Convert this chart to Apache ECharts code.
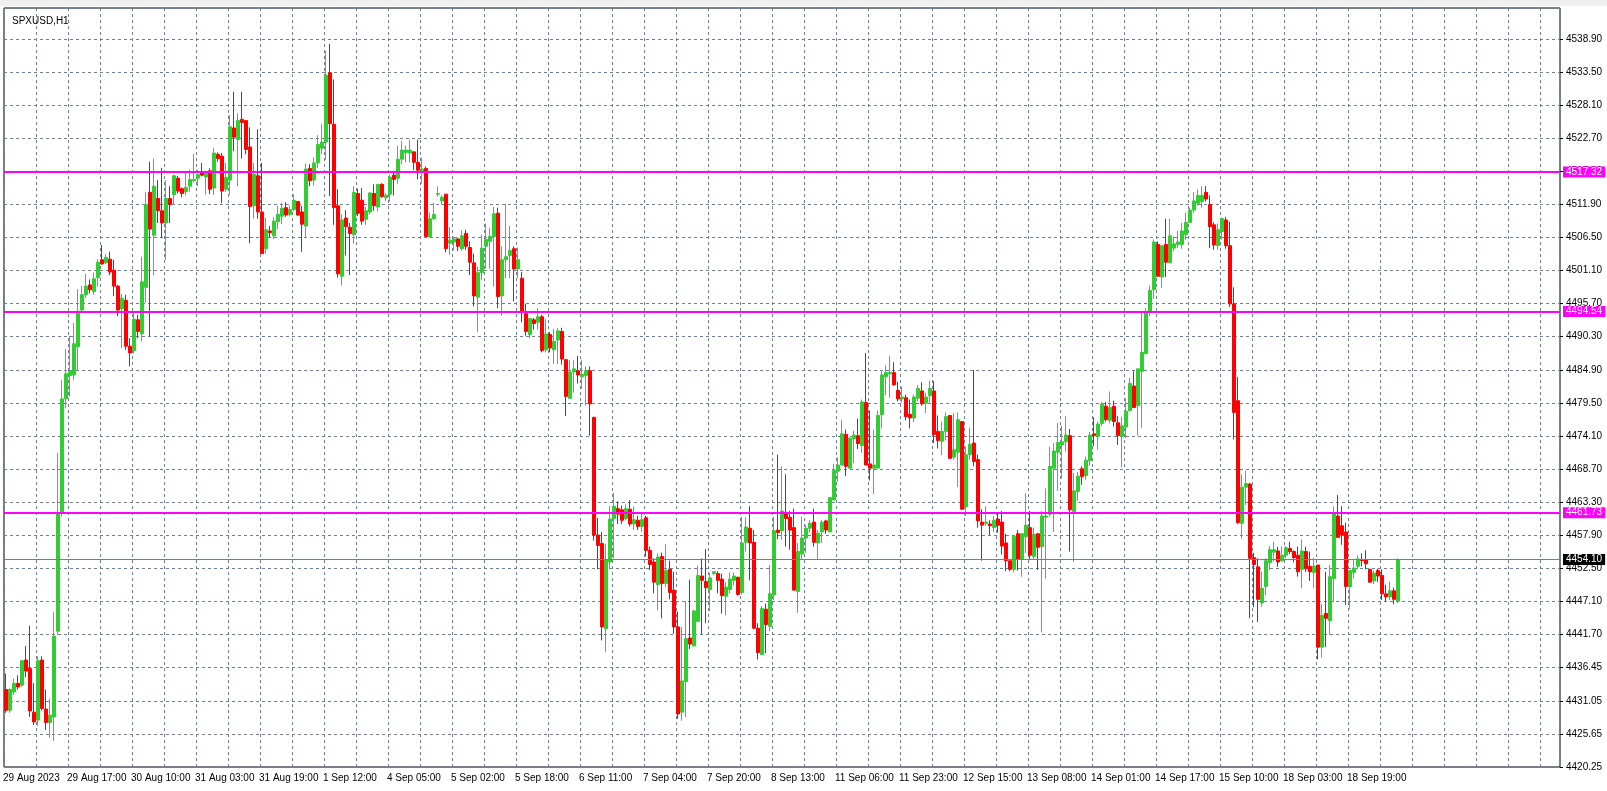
<!DOCTYPE html>
<html><head><meta charset="utf-8">
<script src="https://cdn.jsdelivr.net/npm/echarts@6/dist/echarts.min.js"></script>
<style>html,body{margin:0;padding:0;background:#fff}#c{width:1607px;height:791px}</style>
</head><body><div id="c"></div>
<script>
const opens=[4432.9,4429.5,4432.5,4433.9,4433.6,4437.7,4436.3,4429.2,4427.9,4437.7,4429.7,4427.5,4428.4,4442.4,4461.7,4480.3,4484.1,4484.2,4488.8,4494.8,4497.3,4498.9,4497.8,4500.1,4503.0,4502.5,4503.1,4501.3,4498.7,4495.0,4496.4,4488.9,4488.2,4493.2,4490.9,4498.5,4514.0,4507.0,4513.0,4511.0,4509.0,4513.0,
4513.6,4516.3,4514.6,4514.1,4515.0,4515.9,4516.3,4517.2,4516.5,4517.5,4514.7,4520.2,4519.9,4514.5,4516.0,4524.5,4522.6,4525.9,4525.7,4521.4,4511.8,4516.7,4510.8,4504.8,4507.7,4506.9,4509.2,4510.1,4511.5,4510.4,4511.2,4512.5,4510.8,4508.5,4517.9,4516.0,4518.8,4521.2,4522.2,4533.5,4525.1,4511.8,4500.3,4509.8,
4508.3,4507.1,4513.8,4512.7,4509.6,4510.8,4513.8,4511.6,4515.3,4513.1,4513.7,4516.8,4516.3,4519.4,4520.5,4520.4,4520.6,4518.9,4517.2,4517.9,4506.7,4509.7,4513.7,4512.6,4513.7,4505.7,4505.9,4506.4,4504.8,4507.3,4505.0,4502.5,4496.9,4500.9,4505.2,4506.0,4506.8,4510.6,4497.1,4503.0,4503.7,4504.8,4501.5,4500.0,
4494.2,4490.8,4493.2,4492.8,4493.7,4488.3,4490.8,4488.3,4489.9,4491.3,4486.7,4480.4,4484.7,4484.9,4483.9,4484.1,4484.9,4477.3,4458.1,4456.7,4442.8,4453.7,4460.8,4462.4,4462.2,4460.8,4462.3,4459.9,4460.5,4459.5,4460.9,4455.6,4453.7,4450.0,4454.6,4450.2,4452.5,4449.1,4443.1,4429.2,4434.2,
4441.3,4440.0,4444.0,4451.4,4450.5,4449.2,4451.8,4451.8,4450.9,4448.1,4449.2,4450.7,4451.2,4448.7,4456.9,4459.2,4456.9,4442.9,4438.6,4446.0,4443.2,4448.3,4458.9,4458.8,4461.8,4461.0,4459.3,4448.9,4455.0,4457.6,4459.2,4460.2,4456.8,4458.6,4460.4,4458.6,4463.8,4468.5,4469.5,4474.5,4469.0,4473.8,
4474.3,4472.7,4479.7,4469.7,4469.0,4469.0,4477.7,4483.9,4484.4,4484.6,4481.7,4480.3,4480.5,4477.8,4477.2,4480.4,4481.6,4479.6,4480.8,4481.6,4475.0,4473.4,4475.0,4477.6,4470.8,4471.6,4476.6,4462.7,4471.2,4473.1,4470.4,4460.2,4460.0,4459.9,4459.3,4460.7,4460.2,4456.8,4453.9,4452.5,4458.3,4454.1,4457.8,
4459.3,4454.6,4458.3,4456.2,4461.0,4461.5,4469.0,4471.6,4472.8,4473.3,4474.3,4461.9,4465.2,4468.9,4467.8,4470.2,4474.6,4474.2,4476.3,4479.1,4476.8,4479.1,4476.4,4474.2,4475.7,4478.4,4482.4,4479.2,4484.8,4487.7,4494.4,4498.1,4505.5,4500.2,4505.5,4502.5,4504.9,4505.5,4505.5,4507.1,4509.1,4511.1,
4512.2,4512.5,4514.0,4512.0,4508.7,4505.3,4507.6,4509.5,4505.3,4495.8,4480.0,4460.0,4465.9,4466.4,4454.4,4452.9,4447.0,4449.7,4453.6,4455.3,4455.5,4453.9,4454.8,4455.9,4455.4,4454.8,4452.5,4455.4,4453.0,4452.0,4453.2,4439.8,4445.3,4444.1,4451.0,4461.2,4459.6,4458.6,4449.7,4452.0,4453.0,4454.1,4454.0,4452.5,4450.6,4452.3,4451.5,4448.5,4448.0,4449.0,4447.3];
const closes=[4429.5,4432.9,4433.9,4433.3,4437.6,4435.9,4429.4,4427.6,4437.6,4429.8,4427.5,4428.7,4441.6,4461.7,4480.3,4484.4,4484.8,4489.3,4494.6,4497.3,4498.7,4498.1,4499.9,4502.6,4502.3,4503.4,4501.0,4498.7,4494.8,4496.7,4488.9,4487.8,4493.3,4491.3,4499.4,4512.0,4508.0,4515.0,4511.0,4509.0,4513.0,4512.0,
4516.7,4514.2,4513.8,4514.8,4516.1,4516.1,4516.9,4516.8,4517.2,4514.5,4520.4,4519.5,4514.2,4516.4,4524.7,4523.0,4525.7,4525.4,4521.0,4511.7,4516.9,4510.8,4504.0,4507.9,4507.4,4509.3,4510.4,4511.4,4510.3,4511.2,4512.7,4510.3,4508.8,4517.8,4515.9,4518.8,4521.8,4522.2,4533.1,4525.2,4511.5,4500.7,4509.5,4508.4,
4507.3,4514.0,4510.6,4509.3,4511.0,4513.9,4511.8,4515.3,4513.3,4513.5,4516.5,4516.1,4519.4,4520.9,4520.9,4520.9,4518.9,4517.6,4517.8,4506.8,4509.7,4510.4,4513.8,4513.2,4504.8,4506.2,4506.4,4505.2,4506.9,4505.2,4502.6,4497.1,4500.9,4504.9,4506.3,4506.8,4510.5,4497.0,4503.0,4503.5,4504.5,4501.5,4503.0,4494.4,
4491.3,4493.4,4492.6,4493.7,4488.2,4490.9,4488.6,4489.7,4491.4,4486.8,4480.7,4484.7,4485.2,4484.2,4484.3,4484.9,4479.5,4458.1,4456.4,4443.1,4454.0,4460.7,4462.8,4461.5,4460.5,4462.4,4459.9,4460.6,4459.5,4460.6,4455.6,4453.3,4450.4,4454.5,4450.2,4452.3,4448.7,4443.1,4428.9,4434.3,4441.2,
4440.3,4445.7,4451.5,4450.7,4449.5,4451.1,4452.1,4450.7,4448.2,4449.6,4450.9,4451.4,4448.4,4456.8,4459.4,4456.8,4442.9,4438.9,4446.1,4443.5,4448.5,4458.8,4458.5,4462.0,4460.8,4458.9,4449.1,4455.4,4457.6,4459.2,4460.0,4456.9,4458.4,4460.2,4458.9,4464.2,4468.6,4469.5,4474.6,4469.3,4473.9,4474.4,
4473.0,4479.8,4469.5,4469.0,4469.5,4477.6,4484.2,4484.6,4484.6,4482.6,4480.3,4480.6,4477.4,4477.2,4480.6,4482.0,4479.5,4480.6,4482.0,4474.5,4473.5,4475.0,4477.4,4470.6,4472.0,4476.9,4462.3,4471.2,4472.9,4470.1,4460.4,4459.7,4460.2,4459.6,4460.5,4459.7,4456.3,4453.9,4452.5,4457.9,4454.2,4458.3,4459.7,
4454.8,4458.2,4456.1,4461.2,4461.2,4469.3,4471.8,4473.2,4473.3,4474.4,4462.2,4465.3,4467.7,4467.6,4470.3,4474.4,4474.3,4476.2,4479.4,4476.9,4478.9,4476.6,4474.3,4475.9,4478.3,4482.8,4478.9,4485.2,4487.9,4494.3,4498.0,4505.9,4500.3,4505.3,4502.6,4506.9,4505.6,4505.9,4507.7,4509.1,4511.1,4512.6,
4513.5,4513.5,4512.9,4508.4,4505.4,4507.9,4509.7,4505.3,4495.8,4478.1,4460.1,4465.9,4466.5,4454.3,4453.3,4447.6,4449.4,4453.9,4455.7,4455.7,4453.7,4454.8,4456.0,4455.4,4454.4,4452.1,4455.5,4452.6,4452.1,4453.0,4439.8,4445.0,4444.5,4451.3,4461.6,4457.7,4458.1,4449.7,4452.3,4452.7,4454.2,4453.9,4453.4,4450.4,4451.9,4451.4,4448.5,4448.0,4449.0,4447.6,4454.1];
const highs=[4435.5,4433.1,4434.7,4435.2,4437.7,4440.0,4443.3,4433.9,4438.3,4438.3,4432.9,4431.4,4445.6,4471.5,4483.4,4488.4,4490.6,4492.7,4498.2,4498.7,4500.7,4499.8,4500.9,4503.1,4505.4,4503.9,4504.3,4503.0,4498.9,4497.4,4497.3,4490.2,4494.6,4494.0,4503.5,4514.0,4519.0,4519.5,4516.0,4518.0,4516.0,4515.0,
4516.9,4516.7,4514.8,4517.3,4517.7,4520.3,4517.7,4518.8,4517.5,4517.9,4521.2,4520.5,4520.4,4518.8,4526.6,4530.4,4526.9,4530.4,4525.7,4524.6,4518.8,4524.3,4518.8,4509.9,4508.5,4509.9,4511.8,4512.3,4512.4,4511.8,4513.7,4512.6,4511.8,4518.7,4518.6,4519.7,4523.3,4525.1,4537.1,4538.2,4532.4,4514.5,4510.4,4511.1,
4509.0,4515.0,4514.6,4514.7,4511.6,4514.0,4515.3,4515.3,4515.5,4513.9,4516.9,4517.5,4521.6,4522.4,4521.6,4522.6,4520.6,4522.6,4519.7,4518.2,4510.7,4512.3,4515.0,4513.5,4513.7,4508.3,4506.8,4506.6,4507.8,4507.9,4506.0,4504.0,4501.9,4507.1,4508.9,4508.2,4511.6,4511.5,4505.2,4512.1,4508.5,4505.2,4505.0,4501.0,
4495.8,4493.4,4493.5,4495.1,4494.0,4493.3,4491.2,4491.7,4491.9,4491.9,4486.7,4486.6,4486.6,4487.3,4486.7,4485.6,4485.6,4477.3,4460.9,4458.6,4456.6,4462.8,4465.0,4463.6,4462.9,4463.1,4463.8,4462.8,4461.2,4461.8,4461.2,4456.2,4454.3,4455.1,4455.2,4456.6,4453.9,4452.1,4445.6,4443.1,4447.3,
4450.8,4445.9,4453.1,4454.3,4455.8,4451.9,4452.1,4452.2,4451.8,4450.4,4452.0,4452.0,4451.3,4461.1,4461.0,4462.8,4458.9,4443.7,4446.5,4446.9,4453.2,4461.1,4471.2,4469.3,4468.0,4462.0,4462.4,4456.8,4461.1,4459.7,4460.5,4462.4,4458.9,4460.5,4460.6,4464.2,4469.7,4470.8,4476.9,4475.3,4474.0,4475.1,
4477.1,4480.2,4487.8,4478.4,4475.3,4478.4,4485.0,4485.8,4487.3,4486.3,4483.1,4482.3,4481.0,4480.2,4481.0,4482.6,4483.0,4481.3,4483.3,4483.2,4477.6,4476.6,4478.1,4477.6,4478.0,4478.1,4476.6,4472.5,4475.6,4485.0,4471.2,4462.3,4462.8,4460.5,4461.2,4461.6,4462.0,4458.3,4453.9,4457.9,4458.9,4458.3,4464.9,
4462.0,4459.3,4458.3,4462.0,4465.7,4472.5,4473.1,4476.4,4475.9,4477.5,4475.4,4468.2,4468.4,4469.3,4470.9,4474.9,4477.3,4476.6,4479.8,4479.8,4481.5,4480.0,4477.5,4477.4,4480.4,4483.7,4484.8,4485.2,4494.6,4495.1,4498.8,4506.3,4506.0,4505.3,4509.7,4509.7,4506.8,4507.7,4509.0,4510.7,4511.5,4514.0,
4514.5,4515.0,4515.0,4513.5,4509.1,4508.9,4509.9,4510.0,4509.2,4498.5,4483.9,4468.0,4468.6,4466.6,4455.2,4454.3,4452.1,4454.3,4456.3,4457.0,4456.2,4456.2,4456.3,4457.0,4455.6,4456.2,4457.4,4456.2,4455.4,4454.4,4453.2,4446.8,4452.1,4453.2,4462.8,4464.6,4462.8,4460.1,4452.3,4454.0,4454.8,4455.1,4455.6,4452.5,4452.3,4452.6,4452.5,4450.0,4450.5,4449.5,4454.3];
const lows=[4429.1,4429.1,4432.0,4432.9,4433.3,4434.9,4428.4,4427.1,4427.0,4429.5,4426.3,4425.0,4424.5,4441.8,4461.1,4478.8,4480.7,4483.4,4485.0,4494.4,4496.7,4497.5,4497.3,4498.6,4502.2,4502.3,4500.5,4497.1,4493.8,4488.6,4488.3,4485.6,4487.7,4490.2,4489.7,4496.0,4490.5,4500.5,4509.0,4506.5,4503.0,4509.0,
4512.0,4513.8,4513.2,4513.5,4514.1,4515.7,4515.0,4516.6,4513.6,4513.7,4513.6,4519.0,4512.2,4514.1,4513.6,4520.7,4515.0,4519.5,4520.2,4505.7,4509.7,4509.7,4504.0,4504.0,4506.6,4506.4,4508.0,4508.8,4510.0,4510.1,4510.9,4510.1,4504.3,4506.6,4515.0,4515.1,4518.0,4520.2,4519.3,4513.4,4508.7,4500.1,4498.8,4503.7,
4500.5,4505.6,4510.1,4508.7,4508.7,4510.4,4511.0,4510.9,4513.1,4512.6,4512.5,4513.5,4515.4,4518.6,4518.9,4518.9,4517.6,4516.1,4515.4,4506.8,4506.7,4509.5,4513.3,4512.0,4504.2,4503.8,4504.5,4504.4,4504.5,4504.6,4500.5,4495.4,4491.2,4499.7,4501.6,4501.5,4498.6,4495.1,4493.9,4500.0,4500.0,4496.2,4500.0,4492.8,
4490.6,4490.2,4491.6,4491.6,4487.9,4487.9,4487.9,4486.0,4486.0,4485.9,4477.5,4480.3,4481.3,4482.8,4481.9,4479.2,4474.3,4457.2,4452.5,4440.9,4439.0,4452.5,4454.3,4459.9,4459.9,4460.5,4459.5,4458.9,4458.9,4458.6,4454.6,4452.4,4448.6,4445.8,4444.5,4449.6,4447.6,4442.0,4428.1,4427.8,4428.4,
4439.5,4440.0,4444.0,4441.9,4443.7,4445.7,4451.5,4448.6,4445.3,4445.0,4448.6,4449.9,4448.2,4448.4,4455.4,4450.7,4442.7,4437.8,4438.5,4438.8,4442.4,4447.5,4457.4,4457.3,4456.2,4455.7,4449.1,4445.4,4454.2,4455.2,4458.5,4456.2,4454.1,4456.8,4458.3,4458.6,4463.8,4466.8,4469.5,4467.7,4468.9,4469.8,
4472.1,4471.5,4469.5,4467.0,4464.8,4469.0,4475.5,4480.9,4480.5,4482.4,4479.9,4479.7,4476.8,4475.5,4476.5,4479.9,4479.2,4478.0,4479.7,4473.1,4472.2,4471.1,4473.5,4470.6,4470.4,4465.9,4462.3,4461.2,4470.4,4469.3,4459.3,4453.9,4459.6,4458.1,4458.6,4458.5,4454.9,4452.2,4452.2,4452.0,4452.3,4451.3,4455.2,
4454.0,4454.0,4452.4,4442.2,4451.0,4461.1,4458.6,4465.3,4467.3,4471.7,4455.4,4453.7,4463.7,4466.3,4467.1,4469.4,4472.6,4472.0,4475.9,4476.6,4476.3,4475.8,4472.8,4469.1,4473.9,4478.2,4478.9,4474.3,4475.6,4487.6,4493.8,4496.6,4500.3,4498.4,4500.2,4502.4,4504.4,4504.9,4504.8,4506.3,4509.0,4510.7,
4511.8,4511.5,4512.5,4504.9,4504.6,4504.6,4506.3,4504.8,4495.3,4473.7,4459.9,4457.5,4463.0,4444.5,4446.3,4443.9,4446.4,4448.3,4452.4,4453.8,4452.9,4453.7,4454.3,4455.0,4453.6,4451.3,4449.4,4452.1,4450.6,4449.4,4437.8,4438.1,4439.8,4441.8,4447.2,4457.7,4456.5,4446.7,4446.0,4451.0,4452.5,4453.0,4452.5,4450.3,4450.1,4450.4,4447.5,4447.2,4447.5,4446.8,4447.0];
const timeLabels=['29 Aug 2023','29 Aug 17:00','30 Aug 10:00','31 Aug 03:00','31 Aug 19:00','1 Sep 12:00','4 Sep 05:00','5 Sep 02:00','5 Sep 18:00','6 Sep 11:00','7 Sep 04:00','7 Sep 20:00','8 Sep 13:00','11 Sep 06:00','11 Sep 23:00','12 Sep 15:00','13 Sep 08:00','14 Sep 01:00','14 Sep 17:00','15 Sep 10:00','18 Sep 03:00','18 Sep 19:00'];
const priceLabels=['4420.25','4425.65','4431.05','4436.45','4441.70','4447.10','4452.50','4457.90','4463.30','4468.70','4474.10','4479.50','4484.90','4490.30','4495.70','4501.10','4506.50','4511.90','4517.30','4522.70','4528.10','4533.50','4538.90'];
const levels=[4517.32,4494.54,4461.73];
const lastPrice=4454.10;
const symbol='SPXUSD,H1';

const slots=389;
const cats=[];for(let i=0;i<slots;i++)cats.push(String(i));
const candles=opens.map((o,i)=>[o,closes[i],lows[i],highs[i]]);
const grid='#708090';
const chart=echarts.init(document.getElementById('c'));
chart.setOption({
 animation:false,
 backgroundColor:'#fff',
 title:{text:symbol,left:7,top:11,textStyle:{fontSize:10,fontWeight:'normal',color:'#000',fontFamily:'Liberation Sans'}},
 graphic:[{type:'rect',shape:{x:0,y:0,width:1607,height:6},style:{fill:'#f0f0f0'},silent:true}],
 grid:{left:3,right:47,top:8,bottom:24,show:true,borderColor:'#000',borderWidth:1},
 xAxis:{type:'category',data:cats,boundaryGap:true,
   axisLine:{show:false},axisTick:{show:false},
   axisLabel:{interval:(i)=>i%16===0&&i/16<timeLabels.length,formatter:(v,i)=>timeLabels[Math.round(+v/16)]||'',
     align:'left',margin:6,fontSize:10,color:'#000',fontFamily:'Liberation Sans',padding:[0,0,0,-3]},
   splitLine:{show:true,interval:(i)=>i%8===0,lineStyle:{color:grid,type:[3,3],width:1}}},
 yAxis:{type:'value',position:'right',min:4420.25,max:4544.07,interval:5.4,scale:true,
   axisLine:{show:false},axisTick:{show:true,length:3,lineStyle:{color:'#000'}},
   axisLabel:{showMaxLabel:false,margin:6,fontSize:10,color:'#000',fontFamily:'Liberation Sans',
     formatter:(v)=>priceLabels[Math.round((v-4420.25)/5.4)]||''},
   splitLine:{show:true,lineStyle:{color:grid,type:[3,3],width:1}}},
 series:[{type:'candlestick',data:candles,barWidth:3,
   itemStyle:{color:'#32CD32',color0:'#FF0000',borderColor:'#32CD32',borderColor0:'#FF0000',borderWidth:1},
   markLine:{symbol:'none',silent:true,z:10,
     data:[
      ...levels.map(v=>({yAxis:v,lineStyle:{color:'#FF00FF',width:2,type:'solid'},
        label:{show:true,position:'end',distance:3,formatter:v.toFixed(2),color:'#fff',backgroundColor:'#FF00FF',padding:[1,3,0,3],fontSize:10,fontFamily:'Liberation Sans'}})),
      {yAxis:lastPrice,lineStyle:{color:grid,width:1,type:'solid'},
        label:{show:true,position:'end',distance:3,formatter:lastPrice.toFixed(2),color:'#fff',backgroundColor:'#000',padding:[1,3,0,3],fontSize:10,fontFamily:'Liberation Sans'}}
     ]}}]
});
</script></body></html>
